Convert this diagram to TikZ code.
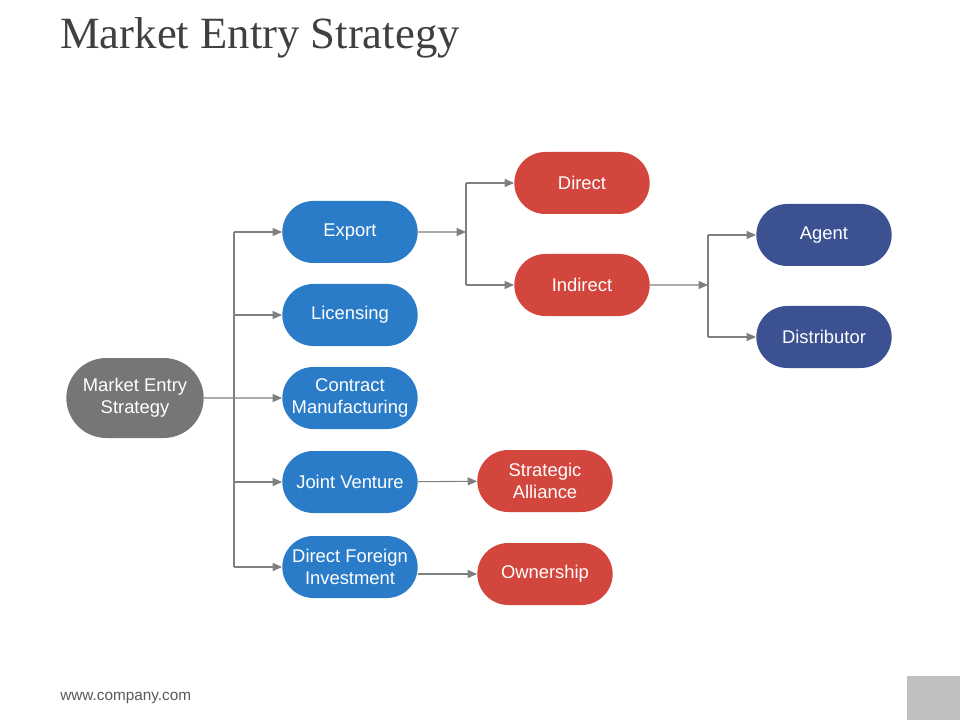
\documentclass[tikz,border=0pt]{standalone}
\usepackage{fontspec}
\setmainfont{Liberation Sans}
\newfontfamily\titlefont{Liberation Serif}
\usetikzlibrary{shapes.misc,arrows.meta}
\definecolor{boxblue}{HTML}{2B7CC8}
\definecolor{boxred}{HTML}{D2463D}
\definecolor{boxnavy}{HTML}{3B5191}
\definecolor{boxgray}{HTML}{767676}
\definecolor{linegray}{HTML}{7F7F7F}
\begin{document}
\begin{tikzpicture}[x=0.75pt,y=-0.75pt,
    pill/.style={rounded rectangle, fill=#1, text=white, minimum width=105.5pt,
      minimum height=46.5pt, inner sep=2pt, align=center,
      font=\fontsize{13.8}{16.5}\selectfont},
    line/.style={draw=linegray, line width=0.8pt},
    conn/.style={line, -{Triangle[length=7pt,width=6pt]}}]
\useasboundingbox (0,0) rectangle (960,720);
% title and footer
\node[anchor=base west, inner sep=0pt, text=black!75, font=\titlefont\fontsize{33.5}{38}\selectfont]
  (title) at (60,49) {Market Entry Strategy};
\node[anchor=base west, inner sep=0pt, text=black!65, font=\fontsize{11.5}{13}\selectfont]
  (url) at (60,700) {www.company.com};
\fill[black!25] (907,676) rectangle (960,720);
% nodes
\node[pill=boxgray, minimum width=107pt, minimum height=60pt] (root) at (135,398) {Market Entry\\Strategy};
\node[pill=boxblue] (exp) at (350,232) {Export};
\node[pill=boxblue] (lic) at (350,315) {Licensing};
\node[pill=boxblue] (cm)  at (350,398) {Contract\\Manufacturing};
\node[pill=boxblue] (jv)  at (350,482) {Joint Venture};
\node[pill=boxblue] (dfi) at (350,567) {Direct Foreign\\Investment};
\node[pill=boxred] (dir) at (582,183) {Direct};
\node[pill=boxred] (ind) at (582,285) {Indirect};
\node[pill=boxred] (sa)  at (545,481) {Strategic\\Alliance};
\node[pill=boxred] (own) at (545,574) {Ownership};
\node[pill=boxnavy] (agt) at (824,235) {Agent};
\node[pill=boxnavy] (dst) at (824,337) {Distributor};
% connectors
\coordinate (b1) at (234,398);
\coordinate (b2) at (466,232);
\coordinate (b3) at (708,285);
\draw[conn] (root) -- (cm);
\draw[line] (b1 |- exp.west) -- (b1 |- dfi.west);
\foreach \n in {exp,lic,jv,dfi}
  \draw[conn] (b1 |- \n.west) -- (\n.west);
\draw[conn] (exp) -- (b2);
\draw[line] (b2 |- dir.west) -- (b2 |- ind.west);
\foreach \n in {dir,ind}
  \draw[conn] (b2 |- \n.west) -- (\n.west);
\draw[conn] (ind) -- (b3);
\draw[line] (b3 |- agt.west) -- (b3 |- dst.west);
\foreach \n in {agt,dst}
  \draw[conn] (b3 |- \n.west) -- (\n.west);
\draw[conn] (jv) -- (sa);
\draw[conn] (dfi.east |- own.west) -- (own.west);
\end{tikzpicture}
\end{document}
